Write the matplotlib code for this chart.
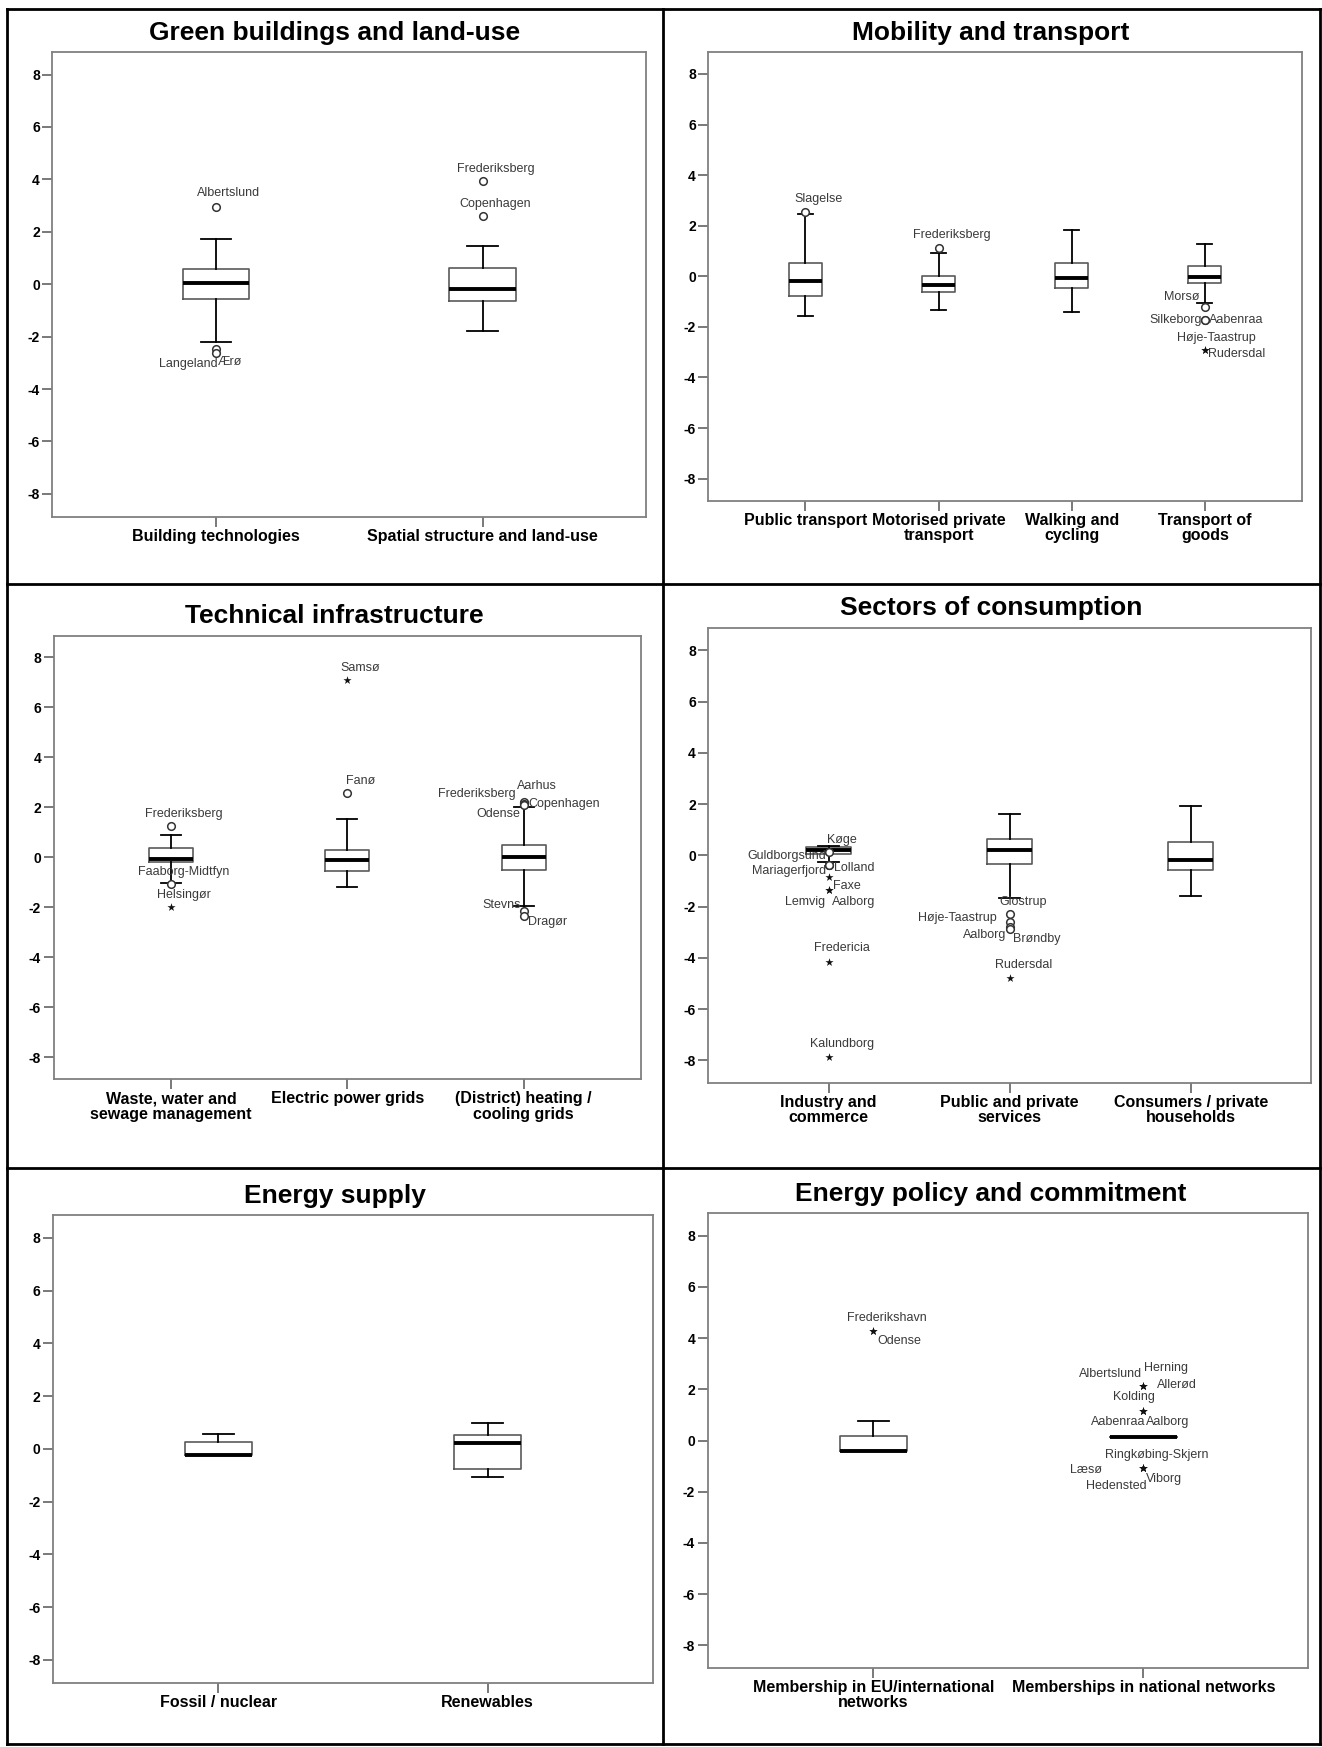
import matplotlib
matplotlib.use("Agg")
import matplotlib.pyplot as plt
from matplotlib.lines import Line2D

plt.rcParams['font.family'] = ['Liberation Sans', 'DejaVu Sans']

# ---------------- DATA ----------------
titles = ["Green buildings and land-use", "Mobility and transport",
          "Technical infrastructure", "Sectors of consumption",
          "Energy supply", "Energy policy and commitment"]

cats1 = ["Building technologies", "Spatial structure and land-use"]
whislo1 = [-2.20, -1.79]
q1_1 = [-0.55, -0.66]
med1 = [0.03, -0.17]
q3_1 = [0.58, 0.61]
whishi1 = [1.73, 1.46]
out_names1 = ["Albertslund", "Langeland", "Ærø", "Frederiksberg", "Copenhagen"]
out_cat1 = [0, 0, 0, 1, 1]
out_val1 = [2.93, -2.49, -2.63, 3.92, 2.62]
out_kind1 = ["o", "o", "o", "o", "o"]

cats2 = ["Public transport", "Motorised private\ntransport", "Walking and\ncycling", "Transport of\ngoods"]
whislo2 = [-1.55, -1.33, -1.40, -1.04]
q1_2 = [-0.79, -0.63, -0.48, -0.26]
med2 = [-0.19, -0.35, -0.07, -0.01]
q3_2 = [0.54, 0.03, 0.54, 0.39]
whishi2 = [2.47, 0.94, 1.83, 1.29]
out_names2 = ["Slagelse", "Frederiksberg", "Morsø", "Silkeborg", "Aabenraa", "Høje-Taastrup", "Rudersdal"]
out_cat2 = [0, 1, 3, 3, 3, 3, 3]
out_val2 = [2.56, 1.11, -1.21, -1.73, -1.73, -2.90, -2.90]
out_kind2 = ["o", "o", "o", "o", "o", "*", "*"]

cats3 = ["Waste, water and\nsewage management", "Electric power grids", "(District) heating /\ncooling grids"]
whislo3 = [-1.01, -1.20, -1.96]
q1_3 = [-0.18, -0.56, -0.51]
med3 = [-0.06, -0.12, 0.00]
q3_3 = [0.38, 0.30, 0.51]
whishi3 = [0.90, 1.55, 2.03]
out_names3 = ["Frederiksberg", "Faaborg-Midtfyn", "Helsingør", "Samsø", "Fanø",
              "Frederiksberg", "Aarhus", "Copenhagen", "Odense", "Stevns", "Dragør"]
out_cat3 = [0, 0, 0, 1, 1, 2, 2, 2, 2, 2, 2]
out_val3 = [1.25, -1.05, -1.99, 7.08, 2.56, 2.18, 2.22, 2.14, 2.10, -2.14, -2.33]
out_kind3 = ["o", "o", "*", "*", "o", "o", "o", "o", "o", "o", "o"]

cats4 = ["Industry and\ncommerce", "Public and private\nservices", "Consumers / private\nhouseholds"]
whislo4 = [-0.25, -1.65, -1.58]
q1_4 = [0.07, -0.35, -0.57]
med4 = [0.19, 0.19, -0.18]
q3_4 = [0.31, 0.63, 0.53]
whishi4 = [0.37, 1.62, 1.91]
out_names4 = ["Køge", "Guldborgsund", "Mariagerfjord", "Lolland", "Faxe", "Lemvig", "Aalborg",
              "Fredericia", "Kalundborg",
              "Glostrup", "Høje-Taastrup", "Aalborg", "Brøndby", "Rudersdal"]
out_cat4 = [0, 0, 0, 0, 0, 0, 0, 0, 0, 1, 1, 1, 1, 1]
out_val4 = [0.12, -0.37, -0.37, -0.37, -0.84, -1.36, -1.36, -4.15, -7.88,
            -2.28, -2.61, -2.78, -2.87, -4.79]
out_kind4 = ["o", "o", "o", "o", "*", "*", "*", "*", "*", "o", "o", "o", "o", "*"]

cats5 = ["Fossil / nuclear", "Renewables"]
whislo5 = [-0.25, -1.08]
q1_5 = [-0.25, -0.78]
med5 = [-0.22, 0.21]
q3_5 = [0.27, 0.52]
whishi5 = [0.55, 0.99]
out_names5 = []
out_cat5 = []
out_val5 = []
out_kind5 = []

cats6 = ["Membership in EU/international\nnetworks", "Memberships in national networks"]
whislo6 = [-0.42, 0.13]
q1_6 = [-0.42, 0.13]
med6 = [-0.42, 0.13]
q3_6 = [0.16, 0.13]
whishi6 = [0.75, 0.13]
out_names6 = ["Frederikshavn", "Odense", "Albertslund", "Herning", "Allerød", "Kolding",
              "Aabenraa", "Aalborg", "Ringkøbing-Skjern", "Læsø", "Hedensted", "Viborg"]
out_cat6 = [0, 0, 1, 1, 1, 1, 1, 1, 1, 1, 1, 1]
out_val6 = [4.29, 4.29, 2.13, 2.13, 2.13, 1.14, 1.14, 1.14, -1.09, -1.09, -1.09, -1.09]
out_kind6 = ["*"] * 12

yticks = [-8, -6, -4, -2, 0, 2, 4, 6, 8]

# ---------------- LAYOUT (pixels) ----------------
W, H, DPI = 1322, 1747, 100
# left, top, right, bottom
rects = [(52.3, 51.7, 645.7, 516.7), (708.3, 51.9, 1302, 500.7),
         (53.6, 635.6, 641, 1079), (708.3, 628, 1311, 1082.6),
         (52.8, 1214.9, 652.5, 1682.7), (707.5, 1213.4, 1308.4, 1667.6)]
title_xy = [(334.5, 33), (991, 33), (334.5, 615.7), (991, 608), (334.5, 1195.8), (991, 1194)]
xlims = {2: (0.385, 2.612), 3: (0.335, 3.665), 4: (0.27, 4.73)}

# label offsets (pixels dx, dy, horizontal alignment)
lab1 = [(12, 14, "center"), (1, -15, "right"), (2, -9, "left"), (13, 12, "center"), (13, 12, "center")]
lab2 = [(13, 13, "center"), (13, 13, "center"), (-5, 10, "right"), (-3, 0, "right"),
        (4, 0, "left"), (12, 12, "center"), (3, -4, "left")]
lab3 = [(13, 12, "center"), (13, 12, "center"), (13, 12, "center"), (13, 12, "center"),
        (13, 12, "center"), (-8, 9, "right"), (13, 16, "center"), (5, 0, "left"),
        (-3, -9, "right"), (-3, 6, "right"), (4, -6, "left")]
lab4 = [(13, 12, "center"), (-3, 9, "right"), (-3, -6, "right"), (5, -3, "left"),
        (4, -9, "left"), (-4, -12, "right"), (3, -12, "left"), (13, 14, "center"),
        (13, 13, "center"), (13, 12, "center"), (-13, 4, "right"), (-3, -8, "right"),
        (3, -10, "left"), (14, 13, "center")]
lab5 = []
lab6 = [(13, 13, "center"), (4, -10, "left"), (-1, 12, "right"), (1, 18, "left"),
        (14, 1, "left"), (-9, 14, "center"), (2, -11, "right"), (3, -11, "left"),
        (13, 13, "center"), (-41, -2, "right"), (3, -18, "right"), (3, -11, "left")]

panels = [
    (cats1, whislo1, q1_1, med1, q3_1, whishi1, out_names1, out_cat1, out_val1, out_kind1, lab1),
    (cats2, whislo2, q1_2, med2, q3_2, whishi2, out_names2, out_cat2, out_val2, out_kind2, lab2),
    (cats3, whislo3, q1_3, med3, q3_3, whishi3, out_names3, out_cat3, out_val3, out_kind3, lab3),
    (cats4, whislo4, q1_4, med4, q3_4, whishi4, out_names4, out_cat4, out_val4, out_kind4, lab4),
    (cats5, whislo5, q1_5, med5, q3_5, whishi5, out_names5, out_cat5, out_val5, out_kind5, lab5),
    (cats6, whislo6, q1_6, med6, q3_6, whishi6, out_names6, out_cat6, out_val6, out_kind6, lab6),
]

fig = plt.figure(figsize=(W / DPI, H / DPI), dpi=DPI)

spine_col = "#808080"
for i, (cats, wlo, q1, med, q3, whi, onames, ocat, oval, okind, labs) in enumerate(panels):
    l, t, r, b = rects[i]
    ax = fig.add_axes([l / W, 1 - b / H, (r - l) / W, (b - t) / H])
    n = len(cats)
    stats = []
    for k in range(n):
        stats.append(dict(med=med[k], q1=q1[k], q3=q3[k], whislo=wlo[k], whishi=whi[k], fliers=[]))
    pos = list(range(1, n + 1))
    ax.bxp(stats, positions=pos, widths=0.25, showfliers=False, capwidths=0.115,
           boxprops=dict(color="#5a5a5a", linewidth=1.2),
           medianprops=dict(color="black", linewidth=2.8, solid_capstyle="butt"),
           whiskerprops=dict(color="black", linewidth=1.3),
           capprops=dict(color="black", linewidth=1.3))
    for name, c, v, kd, (dx, dy, ha) in zip(onames, ocat, oval, okind, labs):
        x = pos[c]
        if kd == "o":
            ax.scatter([x], [v], s=30, marker="o", facecolors="white", edgecolors="#333333",
                       linewidths=1.1, zorder=4)
        else:
            ax.scatter([x], [v], s=38, marker="*", color="#111111", linewidths=0, zorder=4)
        ax.annotate(name, (x, v), xytext=(dx, dy), textcoords="offset pixels",
                    ha=ha, va="center", fontsize=9, color="#3a3a3a", zorder=5)
    ax.set_xlim(*xlims[n])
    ax.set_ylim(-8.87, 8.87)
    ax.set_yticks(yticks)
    ax.set_yticklabels([str(v) for v in yticks], fontsize=10, fontweight="bold")
    ax.set_xticks(pos)
    ax.set_xticklabels(cats, fontsize=11.5, fontweight="bold", linespacing=1.0)
    ax.tick_params(axis="both", direction="out", length=7, width=1.1, color="#555555",
                   pad=2, labelcolor="black")
    for sp in ax.spines.values():
        sp.set_color(spine_col)
        sp.set_linewidth(1.3)
    fig.text(title_xy[i][0] / W, 1 - title_xy[i][1] / H, titles[i], ha="center", va="center",
             fontsize=19, fontweight="bold")

# table lines
def hline(y, x0, x1):
    fig.add_artist(Line2D([x0 / W, x1 / W], [1 - y / H, 1 - y / H], color="black", lw=2.0))

def vline(x, y0, y1):
    fig.add_artist(Line2D([x / W, x / W], [1 - y0 / H, 1 - y1 / H], color="black", lw=2.0))

L, T, R, B = 7, 9, 1320, 1744
hline(T, L, R)
hline(584, L, R)
hline(1168, L, R)
hline(B, L, R)
vline(L, T, B)
vline(662.7, T, B)
vline(R, T, B)

fig.savefig("out.png", dpi=DPI)
